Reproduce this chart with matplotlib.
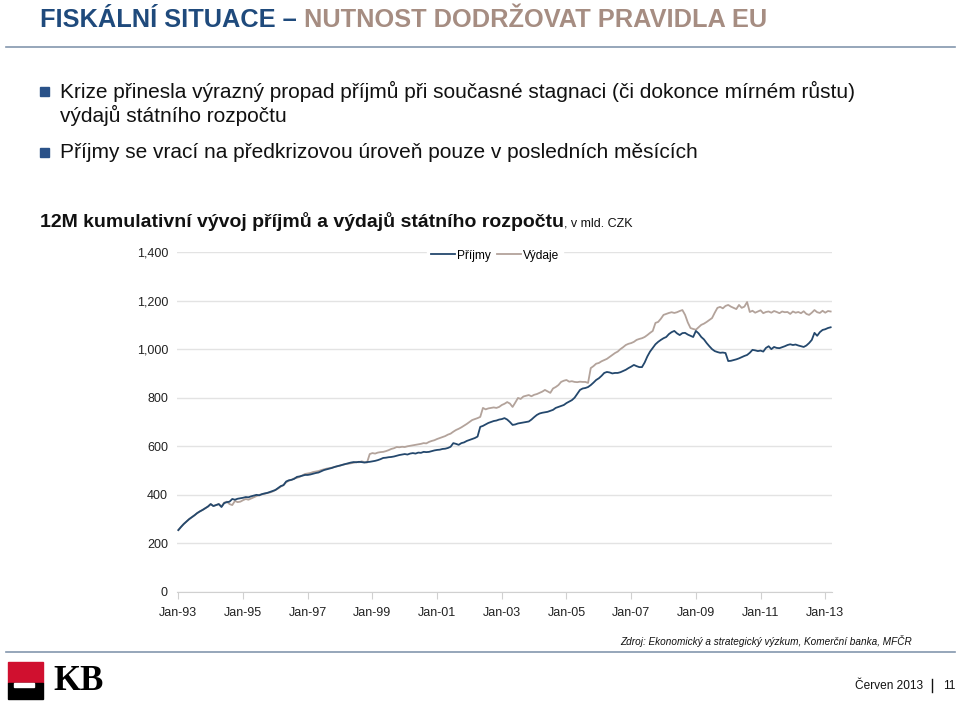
import matplotlib
matplotlib.use("Agg")
import matplotlib.pyplot as plt
from matplotlib.patches import Rectangle
from matplotlib.lines import Line2D
from matplotlib.ticker import FuncFormatter

# ---------------- data (monthly, Jan-1993 .. Mar-2013, bn CZK, 12M rolling) ----------------
prijmy = [
    255, 268, 280, 290, 300, 308, 316, 325, 332, 338, 345, 352,      # 1993
    362, 354, 358, 362, 350, 366, 370, 372, 383, 380, 384, 386,      # 1994
    388, 391, 390, 394, 397, 400, 398, 403, 406, 408, 412, 416,      # 1995
    420, 428, 436, 440, 455, 460, 462, 466, 474, 476, 479, 482,      # 1996
    482, 484, 487, 490, 492, 497, 502, 505, 508, 511, 515, 518,      # 1997
    521, 524, 527, 530, 533, 535, 534, 536, 535, 533, 535, 536,      # 1998
    538, 540, 543, 547, 552, 553, 555, 556, 558, 561, 564, 566,      # 1999
    568, 566, 570, 572, 570, 574, 573, 577, 576, 577, 580, 583,      # 2000
    585, 586, 589, 590, 593, 598, 613, 610, 606, 613, 616, 622,      # 2001
    626, 630, 634, 640, 680, 684, 690, 696, 700, 704, 706, 710,      # 2002
    712, 716, 710, 700, 688, 690, 694, 696, 698, 700, 702, 710,      # 2003
    720, 729, 735, 738, 740, 742, 746, 750, 758, 762, 766, 770,      # 2004
    778, 784, 790, 800, 816, 832, 838, 840, 844, 852, 862, 873,      # 2005
    880, 890, 902, 906, 904, 900, 902, 902, 905, 910, 915, 922,      # 2006
    928, 935, 930, 926, 926, 945, 970, 990, 1005, 1020, 1030, 1038,  # 2007
    1045, 1050, 1062, 1070, 1075, 1065, 1058, 1066, 1067, 1060, 1055, 1050,  # 2008
    1075, 1065, 1050, 1040, 1025, 1012, 1000, 992, 988, 985, 986, 984,      # 2009
    951, 952, 955, 958, 962, 967, 972, 976, 985, 997, 995, 992,      # 2010
    994, 990, 1005, 1012, 1000, 1009, 1005, 1004, 1008, 1012, 1017, 1020,  # 2011
    1017, 1019, 1015, 1012, 1009, 1015, 1025, 1038, 1067, 1055, 1070, 1079,  # 2012
    1082, 1087, 1090,                                                # 2013
]
vydaje = [
    255, 268, 280, 290, 300, 308, 316, 325, 332, 338, 345, 352,      # 1993
    362, 354, 358, 362, 352, 368, 372, 362, 358, 375, 370, 372,      # 1994
    378, 383, 380, 385, 390, 395, 400, 402, 404, 408, 410, 414,      # 1995
    420, 426, 434, 440, 452, 458, 462, 468, 470, 474, 480, 486,      # 1996
    488, 490, 494, 496, 498, 502, 505, 508, 510, 512, 515, 518,      # 1997
    520, 524, 527, 528, 530, 532, 536, 534, 538, 535, 533, 568,      # 1998
    572, 570, 574, 576, 577, 580, 584, 589, 592, 597, 596, 598,      # 1999
    597, 600, 602, 604, 606, 608, 610, 613, 612, 618, 622, 625,      # 2000
    630, 634, 638, 642, 648, 652, 660, 667, 672, 678, 685, 692,      # 2001
    700, 708, 712, 716, 721, 758, 752, 756, 758, 760, 758, 762,      # 2002
    770, 775, 782, 776, 762, 780, 799, 795, 805, 808, 811, 806,      # 2003
    812, 815, 820, 825, 832, 826, 820, 838, 844, 852, 865, 870,      # 2004
    873, 866, 868, 865, 864, 866, 865, 865, 861, 922, 930, 940,      # 2005
    943, 950, 955, 960, 968, 976, 984, 990, 1000, 1008, 1017, 1022,  # 2006
    1025, 1030, 1038, 1042, 1045, 1050, 1058, 1067, 1075, 1108, 1112, 1125,  # 2007
    1141, 1145, 1149, 1152, 1149, 1152, 1157, 1161, 1141, 1110, 1087, 1083,  # 2008
    1080, 1090, 1100, 1105, 1112, 1120, 1128, 1150, 1170, 1174, 1168, 1178,  # 2009
    1182, 1175, 1170, 1165, 1182, 1170, 1175, 1194, 1153, 1158, 1150, 1155,  # 2010
    1160, 1148, 1153, 1155, 1150, 1157, 1153, 1148, 1155, 1152, 1153, 1145,  # 2011
    1155, 1150, 1153, 1148, 1156, 1145, 1141, 1150, 1161, 1152, 1149, 1158,  # 2012
    1150, 1157, 1155,                                                # 2013
]
tick_labels = ["Jan-93", "Jan-95", "Jan-97", "Jan-99", "Jan-01", "Jan-03",
               "Jan-05", "Jan-07", "Jan-09", "Jan-11", "Jan-13"]
y_ticks = [0, 200, 400, 600, 800, 1000, 1200, 1400]
series_names = ["Příjmy", "Výdaje"]

# ---------------- figure ----------------
W, H = 959, 701
fig = plt.figure(figsize=(W / 100, H / 100), dpi=100)
fig.patch.set_facecolor("white")

def fx(px):
    return px / W

def fy(py):
    return 1 - py / H

NARROW = ["Liberation Sans Narrow", "Liberation Sans", "DejaVu Sans"]
SANS = ["Liberation Sans", "DejaVu Sans"]
BLUE = "#1f4a7c"
BROWN = "#a68d82"

# title
t1 = fig.text(fx(40), fy(20), "FISKÁLNÍ SITUACE – ", fontsize=18.3, fontweight="bold",
              color=BLUE, family=NARROW, va="center", ha="left")
fig.canvas.draw()
bb = t1.get_window_extent()
fig.text(bb.x1 / W, fy(20), "NUTNOST DODRŽOVAT PRAVIDLA EU", fontsize=18.3,
         fontweight="bold", color=BROWN, family=NARROW, va="center", ha="left")

# top rule
fig.add_artist(Line2D([fx(6), fx(955)], [fy(47), fy(47)], color="#8497ae", lw=1.2))

# bullets
for yb in (91, 152):
    fig.add_artist(Rectangle((fx(40), fy(yb + 5)), 9 / W, 9 / H, color="#2a5289",
                             transform=fig.transFigure))
bkw = dict(fontsize=15, color="#111111", family=NARROW, va="center", ha="left")
fig.text(fx(60), fy(91), "Krize přinesla výrazný propad příjmů při současné stagnaci (či dokonce mírném růstu)", **bkw)
fig.text(fx(60), fy(115), "výdajů státního rozpočtu", **bkw)
fig.text(fx(60), fy(152), "Příjmy se vrací na předkrizovou úroveň pouze v posledních měsících", **bkw)

# chart subtitle
st = fig.text(fx(40), fy(222), "12M kumulativní vývoj příjmů a výdajů státního rozpočtu",
              fontsize=14, fontweight="bold", color="#111111", family=NARROW,
              va="center", ha="left")
fig.canvas.draw()
bb = st.get_window_extent()
fig.text(bb.x1 / W, fy(224), ", v mld. CZK", fontsize=9, color="#111111",
         family=NARROW, va="center", ha="left")

# ---------------- axes ----------------
ax_left, ax_right, ax_top, ax_bot = 177, 832, 252, 592
ax = fig.add_axes([fx(ax_left), fy(ax_bot), (ax_right - ax_left) / W, (ax_bot - ax_top) / H])
months = list(range(len(prijmy)))
ax.plot(months, vydaje, color="#b3a39b", lw=1.3, label=series_names[1], zorder=3)
ax.plot(months, prijmy, color="#24486d", lw=1.3, label=series_names[0], zorder=4)
ax.set_xlim(-0.5, len(prijmy) - 0.5)
ax.set_ylim(0, 1400)
ax.set_yticks(y_ticks)
ax.yaxis.set_major_formatter(FuncFormatter(lambda v, p: f"{int(v):,}"))
ax.set_xticks([24 * i for i in range(len(tick_labels))])
ax.set_xticklabels(tick_labels)
ax.grid(axis="y", color="#e3e3e3", lw=1)
ax.set_axisbelow(True)
for s in ("top", "right", "left"):
    ax.spines[s].set_visible(False)
ax.spines["bottom"].set_color("#d0d0d0")
ax.tick_params(axis="y", length=0, pad=6.5, labelsize=9, labelcolor="#222222")
ax.tick_params(axis="x", length=5, color="#d0d0d0", pad=6, labelsize=9, labelcolor="#222222")
for lab in ax.get_xticklabels() + ax.get_yticklabels():
    lab.set_family(SANS)

h, l = ax.get_legend_handles_labels()
leg = ax.legend([h[1], h[0]], [l[1], l[0]], loc="upper center", bbox_to_anchor=(0.486, 1.035),
                ncol=2, frameon=True, handlelength=2.0, handletextpad=0.2,
                columnspacing=0.5, borderpad=0.3, prop={"family": SANS, "size": 8.6})
leg.get_frame().set_facecolor("white")
leg.get_frame().set_edgecolor("white")
leg.get_frame().set_alpha(1)

# ---------------- footer ----------------
fig.text(fx(912), fy(641), "Zdroj: Ekonomický a strategický výzkum, Komerční banka, MFČR",
         fontsize=7.2, style="italic", color="#111111", family=NARROW, ha="right", va="center")
fig.add_artist(Line2D([fx(6), fx(955)], [fy(652), fy(652)], color="#8497ae", lw=1.2))

# KB logo
fig.add_artist(Rectangle((fx(8), fy(683)), 35 / W, 21 / H, color="#d0102f",
                         transform=fig.transFigure))
fig.add_artist(Rectangle((fx(8), fy(699)), 35 / W, 16 / H, color="#000000",
                         transform=fig.transFigure))
fig.add_artist(Rectangle((fx(14), fy(687)), 20 / W, 4 / H, color="white",
                         transform=fig.transFigure))
fig.text(fx(53), fy(682), "KB", fontsize=25, fontweight="bold", color="black",
         family=["Liberation Serif", "DejaVu Serif"], ha="left", va="center")

fig.text(fx(923), fy(686), "Červen 2013", fontsize=8.6, color="#111111", family=NARROW,
         ha="right", va="center")
fig.add_artist(Line2D([fx(932), fx(932)], [fy(679), fy(692)], color="#111111", lw=1))
fig.text(fx(955), fy(686), "11", fontsize=8.6, color="#111111", family=NARROW,
         ha="right", va="center")

fig.savefig("out.png", dpi=100, facecolor="white")
